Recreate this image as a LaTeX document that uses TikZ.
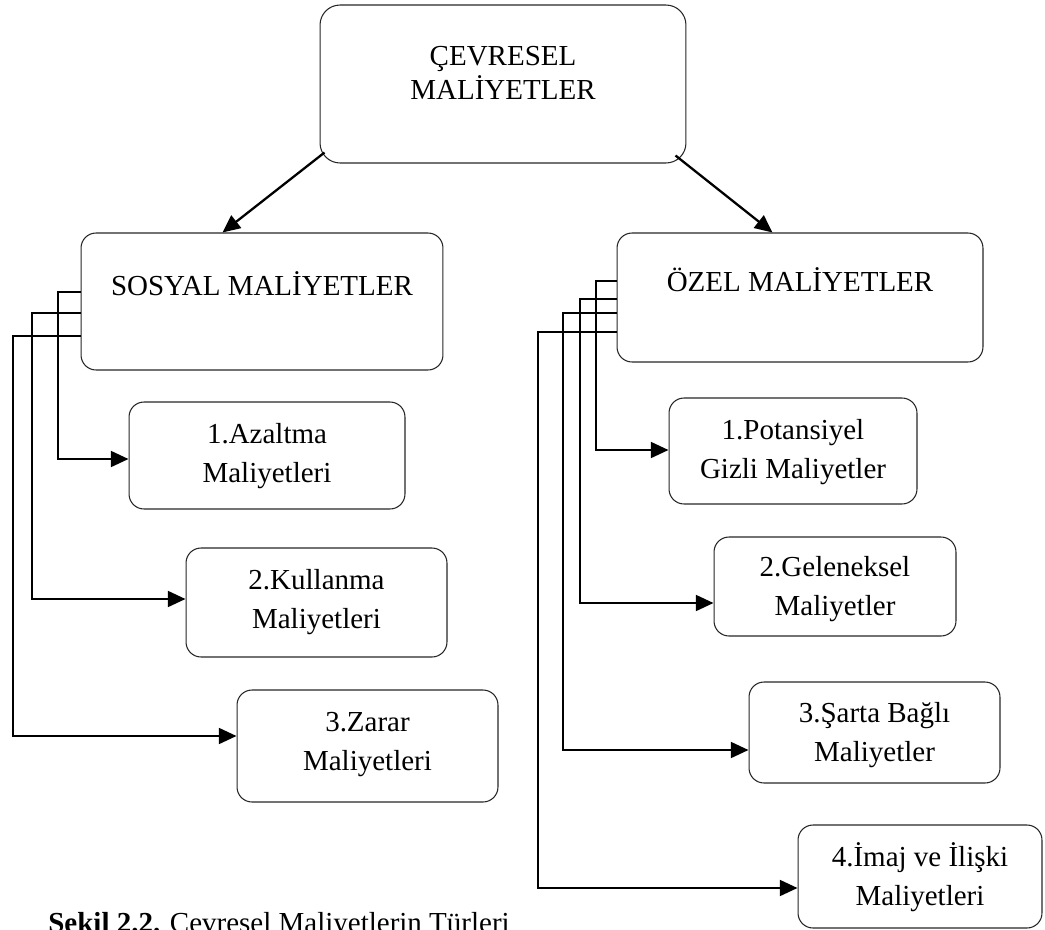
\documentclass[tikz,border=0pt]{standalone}
\usepackage{fontspec}
\setmainfont{Liberation Serif}
\usetikzlibrary{arrows.meta}

\tikzset{
  box/.style={draw=black!85,line width=0.6pt,rounded corners=0.3cm},
  boxtext/.style={anchor=north,inner sep=0pt,align=center,text height=1.17cm,
    font=\fontsize{16.5}{21.9}\selectfont},
  oneline/.style={text height=0.4cm},
  conn/.style={-{Triangle[length=10pt,width=9pt]},line width=1.3pt},
}

\begin{document}
\begin{tikzpicture}[x=0.02cm,y=-0.02cm]
\useasboundingbox (0,0) rectangle (1045,930);
% main box
\node[box,rounded corners=0.4cm,minimum width=7.32cm,minimum height=3.16cm,
  label={[boxtext,text height=1.07cm,label distance=-0.82cm,font=\fontsize{16.5}{19}\selectfont]north:ÇEVRESEL\\MALİYETLER}] (cevre) at (503,84) {};
% two groups
\node[box,minimum width=7.24cm,minimum height=2.74cm,
  label={[boxtext,oneline,label distance=-0.86cm]north:SOSYAL MALİYETLER}] (sosyal) at (262,301.5) {};
\node[box,minimum width=7.32cm,minimum height=2.58cm,
  label={[boxtext,oneline,label distance=-0.78cm]north:ÖZEL MALİYETLER}] (ozel) at (800,297.5) {};
% social costs
\node[box,minimum width=5.52cm,minimum height=2.14cm,
  label={[boxtext,label distance=-0.44cm]north:1.Azaltma\\Maliyetleri}] (az) at (267,455.5) {};
\node[box,minimum width=5.22cm,minimum height=2.18cm,
  label={[boxtext,label distance=-0.44cm]north:2.Kullanma\\Maliyetleri}] (kul) at (316.5,602.5) {};
\node[box,minimum width=5.22cm,minimum height=2.24cm,
  label={[boxtext,label distance=-0.44cm]north:3.Zarar\\Maliyetleri}] (zar) at (367.5,746) {};
% private costs
\node[box,minimum width=4.96cm,minimum height=2.12cm,
  label={[boxtext,label distance=-0.44cm]north:1.Potansiyel\\Gizli Maliyetler}] (pot) at (793,451) {};
\node[box,minimum width=4.84cm,minimum height=1.98cm,
  label={[boxtext,label distance=-0.40cm]north:2.Geleneksel\\Maliyetler}] (gel) at (835,586.5) {};
\node[box,minimum width=5.02cm,minimum height=2.02cm,
  label={[boxtext,label distance=-0.42cm]north:3.Şarta Bağlı\\Maliyetler}] (sar) at (874.5,732.5) {};
\node[box,minimum width=4.88cm,minimum height=2.06cm,
  label={[boxtext,label distance=-0.44cm]north:4.İmaj ve İlişki\\Maliyetleri}] (ima) at (920,876.5) {};
% caption
\node[anchor=base west,inner sep=0pt,font=\fontsize{16.5}{20}\selectfont] (caption) at (48,932)
  {\textbf{Şekil 2.2.} Çevresel Maliyetlerin Türleri};

% arrows from the top
\draw[conn] ([xshift=0.1cm,yshift=0.22cm]cevre.south west) -- ([xshift=2.84cm]sosyal.north west);
\draw[conn] ([xshift=-0.22cm,yshift=0.16cm]cevre.south east) -- ([xshift=3.12cm]ozel.north west);
% left branch
\draw[conn] (sosyal.west |- 0,292) -| (58,459) -- (az.west |- 0,459);
\draw[conn] (sosyal.west |- 0,313) -| (32,599) -- (kul.west |- 0,599);
\draw[conn] (sosyal.west |- 0,336) -| (13,736) -- (zar.west |- 0,736);
% right branch
\draw[conn] (ozel.west |- 0,281) -| (596,450) -- (pot.west |- 0,450);
\draw[conn] (ozel.west |- 0,299) -| (580,603) -- (gel.west |- 0,603);
\draw[conn] (ozel.west |- 0,313) -| (563,750) -- (sar.west |- 0,750);
\draw[conn] (ozel.west |- 0,332) -| (538,888) -- (ima.west |- 0,888);
\end{tikzpicture}
\end{document}
